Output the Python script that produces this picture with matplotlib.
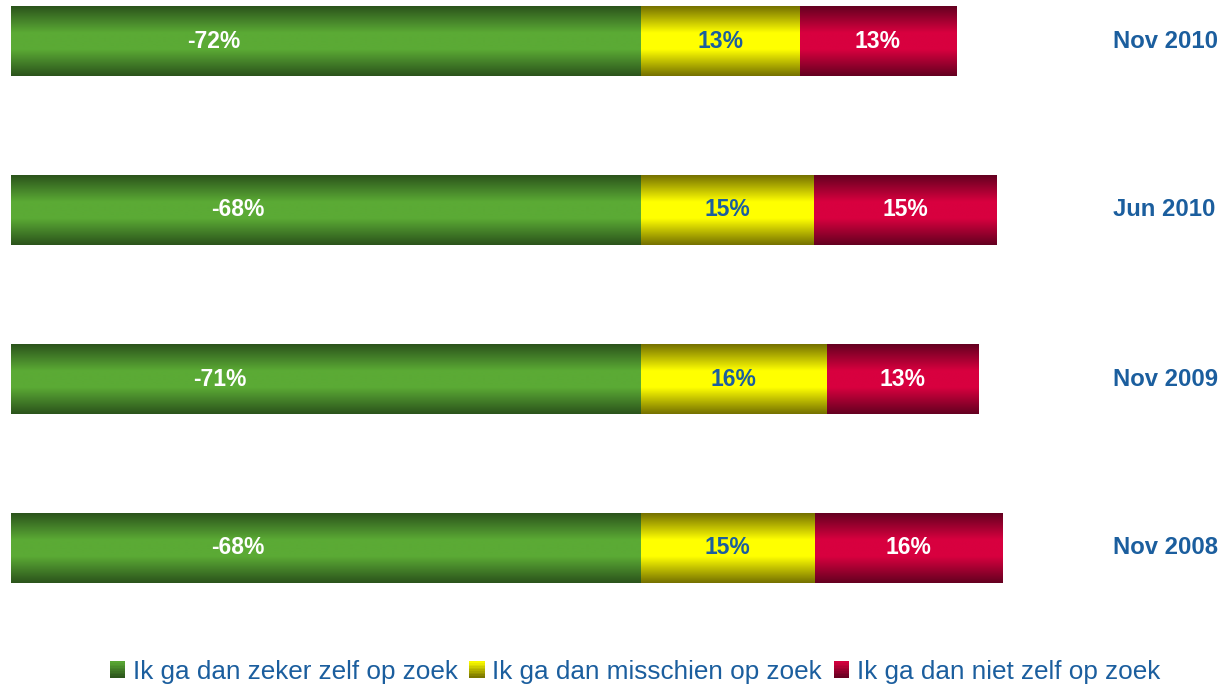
import numpy as np
import matplotlib
matplotlib.use('Agg')
import matplotlib.pyplot as plt
from matplotlib.colors import LinearSegmentedColormap
from matplotlib.legend_handler import HandlerBase
from matplotlib.patches import Rectangle, Patch
from matplotlib.transforms import blended_transform_factory

plt.rcParams['font.family'] = ['Liberation Sans', 'DejaVu Sans']

# data, top bar first
periods = ['Nov 2010', 'Jun 2010', 'Nov 2009', 'Nov 2008']
zeker = [-72, -68, -71, -68]
misschien = [13.4, 14.6, 15.7, 14.7]
niet = [13.2, 15.4, 12.8, 15.8]
series_names = ['Ik ga dan zeker zelf op zoek', 'Ik ga dan misschien op zoek',
                'Ik ga dan niet zelf op zoek']

blue = '#1B5E9E'
# (edge colour, middle colour) of the shaded bars
shades = [('#2B531B', '#5BAA35'), ('#747000', '#FFFF00'), ('#640020', '#D8003F')]
XMIN, XMAX = -53.1, 40


def shade_cmap(edge, mid):
    return LinearSegmentedColormap.from_list('s', [(0, edge), (0.38, mid), (0.62, mid), (1, edge)])


W, H = 1221, 688
fig = plt.figure(figsize=(W / 100, H / 100), dpi=100)
ax = fig.add_axes([11 / W, 1 - 630 / H, 1104 / W, 630 / H])

ypos = np.arange(len(periods))[::-1]
bh = 0.41
grad = np.linspace(0, 1, 256).reshape(-1, 1)

lefts = [np.zeros(4), np.zeros(4), np.array(misschien)]
vals = [np.array(zeker), np.array(misschien), np.array(niet)]
for k in range(3):
    bars = ax.barh(ypos, vals[k], left=lefts[k], height=bh, color='none', linewidth=0)
    cm = shade_cmap(*shades[k])
    for b in bars:
        x0, y0 = b.get_x(), b.get_y()
        x1, y1 = x0 + b.get_width(), y0 + b.get_height()
        # green bars run past the axis start, cut them there
        lo, hi = max(min(x0, x1), XMIN), max(x0, x1)
        ax.imshow(grad, extent=[lo, hi, y0, y1], cmap=cm,
                  aspect='auto', origin='lower', interpolation='bilinear')

# value labels
for i, y in enumerate(ypos):
    ax.text(zeker[i] / 2, y, '%d%%' % zeker[i], ha='center', va='center',
            color='white', fontsize=16.5, fontweight='bold')
    ax.text(misschien[i] / 2, y, '%.0f%%' % misschien[i], ha='center', va='center',
            color=blue, fontsize=16.5, fontweight='bold')
    ax.text(misschien[i] + niet[i] / 2, y, '%.0f%%' % niet[i], ha='center', va='center',
            color='white', fontsize=16.5, fontweight='bold')

tr = blended_transform_factory(ax.transAxes, ax.transData)
for i, y in enumerate(ypos):
    ax.text(0.998, y, periods[i], transform=tr, ha='left', va='center',
            color=blue, fontsize=17.2, fontweight='bold')

ax.set_xlim(XMIN, XMAX)
ax.set_ylim(-82 / 169, 3 + 41 / 169)
ax.axis('off')


class GradHandler(HandlerBase):
    def __init__(self, edge, mid):
        super().__init__()
        self.cm = LinearSegmentedColormap.from_list('h', [edge, mid])

    def create_artists(self, legend, orig_handle, xdescent, ydescent, width, height, fontsize, trans):
        n = 10
        arts = []
        for j in range(n):
            r = Rectangle((-xdescent, -ydescent + j * height / n), width, height / n + 0.3,
                          facecolor=self.cm((j + 0.5) / n), edgecolor='none', transform=trans)
            arts.append(r)
        return arts


handles = [Patch(label=s) for s in series_names]
hmap = {handles[k]: GradHandler(*shades[k]) for k in range(3)}
leg = fig.legend(handles=handles, handler_map=hmap, loc='lower center', ncol=3,
                 bbox_to_anchor=(0.52, -0.009), frameon=False, fontsize=18.85,
                 handlelength=0.58, handleheight=0.58, handletextpad=0.3,
                 columnspacing=0.45, borderaxespad=0)
for t in leg.get_texts():
    t.set_color(blue)

fig.savefig('out.png', dpi=100)
